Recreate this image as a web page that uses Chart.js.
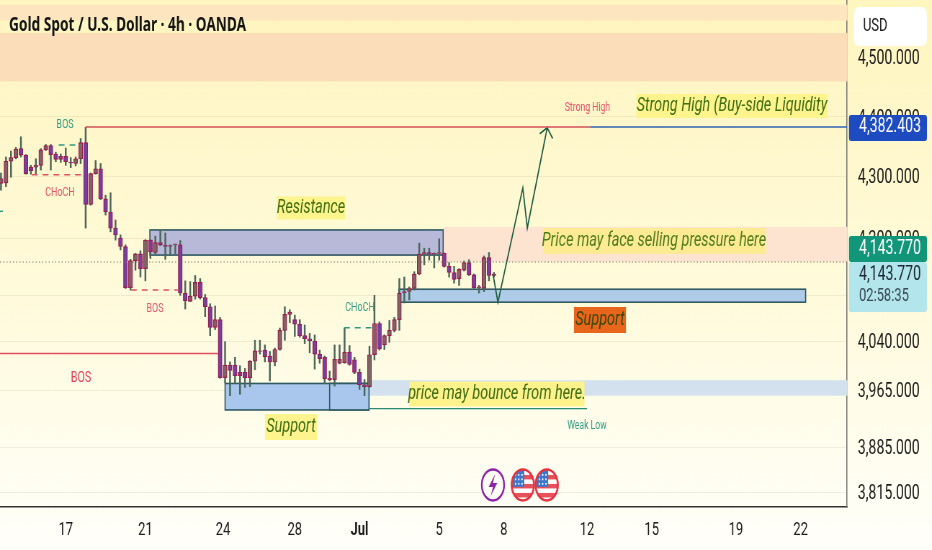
<!DOCTYPE html>
<html>
<head>
<meta charset="utf-8">
<title>Gold Spot / U.S. Dollar</title>
<script src="https://cdn.jsdelivr.net/npm/chart.js@4/dist/chart.umd.js"></script>
<style>
  html, body { margin: 0; padding: 0; background: #fffef6; overflow: hidden; }
  /* the reference is squeezed sideways, text and flags included */
  #wrap { width: 1294px; height: 550px; transform: scaleX(0.7202); transform-origin: 0 0; }
</style>
</head>
<body>
<div id="wrap"><canvas id="chart" width="1294" height="550"></canvas></div>
<script>
// === Data ===
const opens = [4288,4289,4325,4331,4346,4335,4315,4315,4318,4344,4351,4337,4333,4333,4323,4321,4329,4356,4254,4304,
  4312,4263,4242,4216,4200,4180,4110,4147,4163,4135,4195,4166,4189,4183,4180,4184,4184,4103,4092,4099,
  4117,4097,4085,4058,4068,3984,4003,4003,3992,3992,3984,4009,4024,4026,4017,4008,4027,4054,4075,4068,
  4062,4047,4043,4040,4020,4015,3983,3981,4006,4007,4023,4011,3992,3973,3970,4019,4063,4034,4047,4054,
  4068,4103,4105,4109,4128,4162,4166,4162,4164,4164,4138,4130,4122,4133,4143,4127,4110,4109,4154,4126];
const highs = [4305,4332,4342,4348,4366,4336,4318,4329,4346,4353,4353,4340,4337,4347,4331,4332,4363,4382,4305,4326,
  4321,4269,4273,4229,4205,4184,4150,4164,4170,4196,4196,4203,4212,4208,4184,4186,4194,4119,4118,4126,
  4122,4101,4089,4086,4071,4039,4008,4015,4002,3998,4010,4041,4041,4034,4024,4029,4057,4085,4081,4074,
  4068,4061,4050,4048,4026,4017,3994,4034,4034,4057,4033,4015,3997,3981,4032,4100,4065,4048,4067,4071,
  4122,4124,4111,4131,4188,4176,4176,4165,4198,4165,4143,4138,4135,4146,4149,4128,4113,4158,4166,4130];
const lows = [4277,4283,4298,4329,4332,4303,4303,4304,4310,4343,4310,4324,4323,4318,4314,4317,4321,4216,4253,4303,
  4262,4237,4210,4195,4172,4109,4107,4133,4124,4119,4152,4163,4182,4150,4160,4163,4100,4082,4092,4095,
  4095,4072,4047,4055,3983,3976,3957,3975,3959,3969,3970,3996,4020,4008,3979,4002,4026,4041,4064,4046,
  4045,4036,4022,3997,4006,3975,3979,3971,4005,4006,4003,3990,3966,3957,3969,4011,4026,4027,4038,4052,
  4054,4090,4094,4107,4127,4140,4148,4136,4148,4137,4124,4116,4113,4132,4126,4109,4103,4105,4119,4124];
const closes = [4296,4325,4331,4345,4335,4304,4309,4318,4344,4351,4336,4328,4328,4324,4322,4329,4356,4254,4304,4312,
  4263,4242,4216,4205,4180,4110,4147,4163,4135,4195,4168,4189,4184,4180,4182,4186,4103,4093,4099,4117,
  4097,4085,4058,4068,3984,4003,3995,3987,3987,3984,4009,4025,4025,4016,4008,4027,4054,4075,4078,4062,
  4047,4043,4040,4020,4013,3982,3981,4012,4012,4023,4004,3992,3973,3970,4019,4063,4028,4047,4054,4068,
  4103,4105,4109,4128,4162,4166,4162,4164,4166,4138,4130,4121,4134,4143,4127,4110,4111,4154,4126,4128];

const yTicks = [4500,4400,4300,4200,4100,4040,3965,3885,3815];
const yTickLabels = ["4,500.000","4,400.000","4,300.000","4,200.000","4,100.000","4,040.000","3,965.000","3,885.000","3,815.000"];
const xTicks = [13,29,44.6,59,72,88,101,117.7,130.7,147.6,160.6];
const xTickLabels = ["17","21","24","28","Jul","5","8","12","15","19","22"];

const lastPrice = "4,143.770";
const liquidityPrice = "4,382.403";
const countdown = "02:58:35";

// the printed price axis is not evenly spaced, rows are read off the picture
const axisPrices = [4597,4500,4382.4,4300,4200,4143.77,4040,3965,3885,3815,3791.7];
const axisRows = [0,57,127,176,238,262,341,390,447,492,507];

// === Scale: piecewise price axis ===
class PriceScale extends Chart.LinearScale {
  getPixelForValue(v) {
    for (let i = 0; i < axisPrices.length - 1; i++) {
      if (v >= axisPrices[i + 1] || i === axisPrices.length - 2) {
        const t = (axisPrices[i] - v) / (axisPrices[i] - axisPrices[i + 1]);
        const row = axisRows[i] + t * (axisRows[i + 1] - axisRows[i]);
        return this.top + (row / 507) * this.height;
      }
    }
    return this.top;
  }
  getValueForPixel(p) {
    const row = ((p - this.top) / this.height) * 507;
    for (let i = 0; i < axisRows.length - 1; i++) {
      if (row <= axisRows[i + 1] || i === axisRows.length - 2) {
        const t = (row - axisRows[i]) / (axisRows[i + 1] - axisRows[i]);
        return axisPrices[i] + t * (axisPrices[i + 1] - axisPrices[i]);
      }
    }
    return axisPrices[0];
  }
}
PriceScale.id = "tvprice";
PriceScale.defaults = Chart.LinearScale.defaults;
Chart.register(PriceScale);

// === Helpers ===
const SX = 1294 / 932; // canvas units per reference pixel, sideways
const FONT = "Roboto, sans-serif";

function seg(x1, y1, x2, y2, color, width, dash) {
  return {
    type: "line",
    data: [{ x: x1, y: y1 }, { x: x2, y: y2 }],
    borderColor: color,
    borderWidth: width,
    borderDash: dash || [],
    pointRadius: 0,
    tension: 0,
    order: 1,
  };
}

// === Zones [bar from, bar to, price top, price bottom] ===
const bandZones = [
  [-0.2, 170, 4589, 4562, "#fde5c0"],
  [-0.2, 170, 4541, 4459, "#fbddba"],
  [88.8, 170, 4218, 4144, "#fde4d0"],
  [74, 170, 3980, 3957, "#d3e1ee"],
];
const boxZones = [
  [29.9, 88.8, 4213, 4160, "#b8b8d8"],
  [79.9, 161.6, 4108, 4091, "#aecbe8"],
  [45, 73.9, 3975, 3937, "#a9c7ec"],
  [66, 73.9, 3975, 3937, "#a9c7ec"],
];

// === Text notes, in reference pixels ===
const notes = [
  { t: "Resistance", x: 311, y: 208, w: 68, h: 23, bg: "#fdf48e", c: "#3f6d12", f: "italic 400 20px " },
  { t: "Price may face selling pressure here", x: 654, y: 241, w: 222, h: 26, bg: "#fdeb94", c: "#4f7a1c", f: "italic 400 20px " },
  { t: "Support", x: 600, y: 320, w: 52, h: 26, bg: "#e8661c", c: "#33480a", f: "italic 400 20px " },
  { t: "price may bounce from here.", x: 497, y: 394, w: 175, h: 25, bg: "#fdf28c", c: "#3f6d12", f: "italic 400 20px " },
  { t: "Support", x: 291, y: 427, w: 52, h: 26, bg: "#fdf48e", c: "#3f6d12", f: "italic 400 20px " },
  { t: "Strong High (Buy-side Liquidity", x: 732, y: 106, w: 191, h: 24, bg: "#fdf48e", c: "#3f6d12", f: "italic 400 20px " },
  { t: "Strong High", x: 587.5, y: 108, c: "#e0566a", f: "12px " },
  { t: "Weak Low", x: 587, y: 426, c: "#2f9a80", f: "12px " },
  { t: "BOS", x: 65, y: 125, c: "#2f9a80", f: "12.5px " },
  { t: "CHoCH", x: 60, y: 193, c: "#e0566a", f: "12.5px " },
  { t: "BOS", x: 155, y: 309, c: "#e0566a", f: "12.5px " },
  { t: "CHoCH", x: 360, y: 308, c: "#2f9a80", f: "12.5px " },
  { t: "BOS", x: 81, y: 378, c: "#e0405a", f: "15px " },
];

// === Plugin: bands, boxes, notes, price tags ===
const overlay = {
  id: "overlay",
  beforeDraw(chart) {
    const { ctx, width, height } = chart;
    const g = ctx.createLinearGradient(0, 0, 0, height);
    g.addColorStop(0, "#fff5bf");
    g.addColorStop(0.5, "#fffad9");
    g.addColorStop(1, "#fffffa");
    ctx.save();
    ctx.fillStyle = g;
    ctx.fillRect(0, 0, width, height);
    ctx.restore();
  },
  beforeDatasetsDraw(chart) {
    const { ctx, scales } = chart;
    const { x, y } = scales;
    ctx.save();
    bandZones.forEach((z) => {
      ctx.fillStyle = z[4];
      ctx.fillRect(x.getPixelForValue(z[0]), y.getPixelForValue(z[2]),
        x.getPixelForValue(z[1]) - x.getPixelForValue(z[0]), y.getPixelForValue(z[3]) - y.getPixelForValue(z[2]));
    });
    boxZones.forEach((z) => {
      const l = x.getPixelForValue(z[0]);
      const t = y.getPixelForValue(z[2]);
      const w = x.getPixelForValue(z[1]) - l;
      const h = y.getPixelForValue(z[3]) - t;
      ctx.fillStyle = z[4];
      ctx.fillRect(l, t, w, h);
      ctx.strokeStyle = "#2f5a62";
      ctx.lineWidth = 1.6;
      ctx.strokeRect(l, t, w, h);
    });
    ctx.restore();
  },
  afterDatasetsDraw(chart) {
    const { ctx } = chart;
    ctx.save();
    ctx.textAlign = "center";
    ctx.textBaseline = "middle";
    notes.forEach((n) => {
      if (n.bg) {
        ctx.fillStyle = n.bg;
        ctx.fillRect((n.x - n.w / 2) * SX, n.y - n.h / 2, n.w * SX, n.h);
      }
      ctx.font = n.f + FONT;
      ctx.fillStyle = n.c;
      ctx.fillText(n.t, n.x * SX, n.y);
    });
    ctx.restore();
  },
  afterDraw(chart) {
    const { ctx } = chart;
    ctx.save();
    ctx.textBaseline = "middle";
    ctx.textAlign = "left";
    ctx.font = "bold 19px 'Noto Sans', sans-serif";
    ctx.fillStyle = "#141414";
    ctx.fillText("Gold Spot / U.S. Dollar · 4h · OANDA", 9 * SX, 26);

    // USD button
    ctx.fillStyle = "#ffffff";
    ctx.beginPath();
    ctx.roundRect(854 * SX, 7, 73 * SX, 39, 7);
    ctx.fill();
    ctx.font = "18px " + FONT;
    ctx.fillStyle = "#222";
    ctx.fillText("USD", 863 * SX, 26.5);

    // price tags
    const tag = (top, h, bg) => {
      ctx.fillStyle = bg;
      ctx.beginPath();
      ctx.roundRect(849 * SX, top, 78 * SX, h, 3);
      ctx.fill();
    };
    tag(262, 50, "#b2e6ec");
    tag(115, 26, "#1e4bc0");
    tag(236, 26, "#12967a");
    ctx.font = "19.6px " + FONT;
    ctx.fillStyle = "#ffffff";
    ctx.fillText(liquidityPrice, 859 * SX, 127.5);
    ctx.fillText(lastPrice, 859 * SX, 249);
    ctx.fillStyle = "#1c2630";
    ctx.fillText(lastPrice, 859 * SX, 275);
    ctx.font = "18px " + FONT;
    ctx.fillStyle = "#3c4a55";
    ctx.fillText(countdown, 859 * SX, 296.5);

    // event markers
    const { x, y } = chart.scales;
    const ey = y.getPixelForValue(3826);
    const lightning = x.getPixelForValue(98.8);
    ctx.fillStyle = "#fffdf4";
    ctx.strokeStyle = "#8e24aa";
    ctx.lineWidth = 2.4;
    ctx.beginPath();
    ctx.arc(lightning, ey, 15.5, 0, Math.PI * 2);
    ctx.fill();
    ctx.stroke();
    ctx.fillStyle = "#8e24aa";
    ctx.beginPath();
    [[3, -11], [-6, 2], [0, 2], [-3, 11], [6, -2], [0, -2]].forEach((p, i) => {
      if (i) ctx.lineTo(lightning + p[0], ey + p[1]);
      else ctx.moveTo(lightning + p[0], ey + p[1]);
    });
    ctx.closePath();
    ctx.fill();
    [104.8, 109.6].forEach((bar) => {
      const cx = x.getPixelForValue(bar);
      const r = 15.5;
      ctx.save();
      ctx.beginPath();
      ctx.arc(cx, ey, r, 0, Math.PI * 2);
      ctx.fillStyle = "#ffffff";
      ctx.fill();
      ctx.clip();
      ctx.fillStyle = "#e8505a";
      [-10, -1, 8].forEach((off) => ctx.fillRect(cx - r, ey + off, r * 2, 4.5));
      ctx.fillStyle = "#3f78c8";
      ctx.fillRect(cx - r, ey - r, r + 2, r + 2);
      ctx.fillStyle = "#ffffff";
      for (let a = 0; a < 3; a++) {
        for (let b = 0; b < 3; b++) {
          ctx.fillRect(cx - 11 + b * 4.5, ey - 11 + a * 4.5, 1.8, 1.8);
        }
      }
      ctx.restore();
      ctx.strokeStyle = "#e5343f";
      ctx.lineWidth = 2.6;
      ctx.beginPath();
      ctx.arc(cx, ey, r, 0, Math.PI * 2);
      ctx.stroke();
    });
    ctx.restore();
  },
};

// === Chart ===
const WICK = "#4a665a";
const wickData = lows.map((v, i) => ({ x: i, y: [v, highs[i]] }));
const bodyData = opens.map((v, i) => ({ x: i, y: [v, closes[i]] }));
const bodyColors = opens.map((v, i) => (closes[i] >= v ? "#7e6464" : "#7440a4"));

new Chart(document.getElementById("chart"), {
  type: "bar",
  data: {
    datasets: [
      { data: wickData, backgroundColor: WICK, barThickness: 1.8, grouped: false, order: 3 },
      { data: bodyData, backgroundColor: bodyColors, borderColor: "#9a1f4e", borderWidth: 1.2,
        borderSkipped: false, barThickness: 5.6, grouped: false, order: 2 },
      seg(-0.2, 4143.77, 170, 4143.77, "#77776a", 1, [1.5, 3]),
      seg(17, 4382.4, 118.3, 4382.4, "#d2505a", 1.5),
      seg(118.3, 4382.4, 170, 4382.4, "#2f62b0", 1.5),
      seg(-0.2, 4021, 43.6, 4021, "#e0505f", 1.5),
      seg(73.9, 3939, 117.7, 3939, "#2a8a70", 1.3),
      seg(11.6, 4352, 16.3, 4352, "#2f9a80", 1.5, [8, 7]),
      seg(6.2, 4302, 16.9, 4302, "#e0505f", 1.5, [8, 7]),
      seg(26.1, 4107, 35.5, 4107, "#e0505f", 1.5, [8, 7]),
      seg(68.9, 4057.5, 74.9, 4057.5, "#2f9a80", 1.5, [8, 7]),
      seg(-0.2, 4243, 0.4, 4243, "#2f9a80", 1.5),
      {
        type: "line",
        data: [
          { x: 98.8, y: 4128 }, { x: 99.8, y: 4091 }, { x: 104.8, y: 4281 }, { x: 105.7, y: 4216 },
          { x: 109.7, y: 4381 }, { x: 108.2, y: 4371 }, { x: 109.7, y: 4381 }, { x: 110.8, y: 4363 },
        ],
        borderColor: "#1d5c40",
        borderWidth: 1.7,
        pointRadius: 0,
        tension: 0,
        order: 1,
      },
    ],
  },
  options: {
    responsive: false,
    devicePixelRatio: 1,
    animation: false,
    layout: { padding: 0 },
    plugins: { legend: { display: false }, tooltip: { enabled: false } },
    scales: {
      x: {
        type: "linear",
        offset: false,
        min: -0.2,
        max: 169.9,
        grid: { display: false, offset: false },
        border: { color: "#333", width: 1.6 },
        afterBuildTicks: (s) => { s.ticks = xTicks.map((v) => ({ value: v })); },
        afterFit: (s) => { s.height = 43; s.paddingLeft = 0; s.paddingRight = 0; },
        ticks: {
          autoSkip: false,
          maxRotation: 0,
          padding: 5,
          color: "#1c1c1c",
          font: (c) => ({ family: "Roboto", size: 18, weight: c.index === 4 ? "bold" : "normal" }),
          callback: (v, i) => xTickLabels[i],
        },
      },
      y: {
        type: "tvprice",
        position: "right",
        min: 3791.7,
        max: 4597,
        grid: { color: "rgba(190,180,150,0.22)", drawTicks: false },
        border: { color: "#777", width: 1.6 },
        afterBuildTicks: (s) => { s.ticks = yTicks.map((v) => ({ value: v })); },
        afterFit: (s) => { s.width = 118; s.paddingTop = 0; s.paddingBottom = 0; },
        ticks: {
          autoSkip: false,
          padding: 15,
          labelOffset: 2.5,
          color: "#1c1c1c",
          font: { family: "Roboto", size: 19.6 },
          callback: (v, i) => yTickLabels[i],
        },
      },
    },
  },
  plugins: [overlay],
});
</script>
</body>
</html>
